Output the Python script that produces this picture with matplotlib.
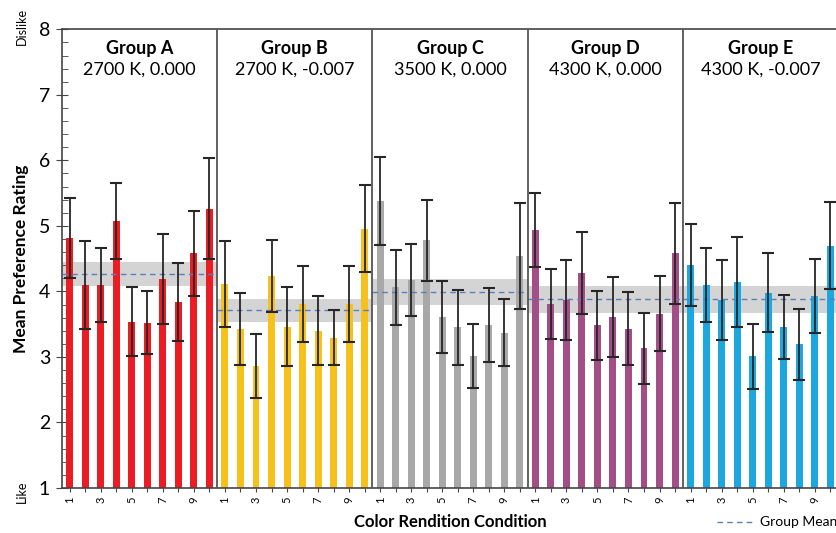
import numpy as np
import matplotlib
matplotlib.use("Agg")
import matplotlib.pyplot as plt
from matplotlib.lines import Line2D
from matplotlib.ticker import MultipleLocator

plt.rcParams["font.family"] = ["Lato", "DejaVu Sans"]

# ---------------------------------------------------------------------------
# data (mean rating, +/- error per condition)
# ---------------------------------------------------------------------------
groups = ["Group A", "Group B", "Group C", "Group D", "Group E"]
subtitles = ["2700 K, 0.000", "2700 K, -0.007", "3500 K, 0.000",
             "4300 K, 0.000", "4300 K, -0.007"]
colors = ["#EC1C24", "#F6C11A", "#A8A8A8", "#A34E86", "#1DA7DF"]
conditions = [1, 2, 3, 4, 5, 6, 7, 8, 9, 10]

means_a = [4.82, 4.10, 4.10, 5.08, 3.54, 3.52, 4.19, 3.84, 4.58, 5.26]
errs_a = [0.61, 0.67, 0.57, 0.58, 0.53, 0.48, 0.68, 0.60, 0.65, 0.77]
means_b = [4.11, 3.43, 2.86, 4.23, 3.46, 3.81, 3.40, 3.29, 3.81, 4.96]
errs_b = [0.66, 0.55, 0.49, 0.55, 0.60, 0.58, 0.53, 0.42, 0.58, 0.67]
means_c = [5.38, 4.06, 4.17, 4.78, 3.61, 3.45, 3.02, 3.49, 3.37, 4.54]
errs_c = [0.67, 0.57, 0.55, 0.62, 0.55, 0.57, 0.49, 0.56, 0.51, 0.81]
means_d = [4.94, 3.81, 3.87, 4.28, 3.48, 3.61, 3.43, 3.13, 3.66, 4.58]
errs_d = [0.56, 0.53, 0.61, 0.62, 0.53, 0.61, 0.56, 0.54, 0.57, 0.77]
means_e = [4.40, 4.10, 3.87, 4.14, 3.01, 3.98, 3.46, 3.19, 3.93, 4.70]
errs_e = [0.63, 0.57, 0.61, 0.69, 0.50, 0.60, 0.49, 0.54, 0.57, 0.67]

group_means = [4.27, 3.71, 3.99, 3.88, 3.88]
group_band = [0.18, 0.18, 0.20, 0.21, 0.21]

all_means = [means_a, means_b, means_c, means_d, means_e]
all_errs = [errs_a, errs_b, errs_c, errs_d, errs_e]

# ---------------------------------------------------------------------------
W, H = 837, 533
fig = plt.figure(figsize=(W / 100, H / 100), dpi=100)
ax = fig.add_axes([62 / W, 1 - 488 / H, 776 / W, (488 - 29.3) / H])

n = len(conditions)
for g, (m, e) in enumerate(zip(all_means, all_errs)):
    x = g * n + np.arange(n)
    lo, hi = g * n - 0.5, g * n + n - 0.5
    # grey band around the group mean
    ax.fill_between([lo, hi], group_means[g] - group_band[g],
                    group_means[g] + group_band[g], color="#D4D4D4",
                    zorder=1, linewidth=0)
    ax.bar(x, np.array(m) - 1, bottom=1, width=0.45, color=colors[g], zorder=2)
    ax.errorbar(x, m, yerr=e, fmt="none", ecolor="#262626", elinewidth=1.3,
                capsize=4, capthick=1.5, zorder=4)
    ax.plot([lo, hi], [group_means[g]] * 2, ls=(0, (4, 3)), lw=1,
            color="#5A7FB8", zorder=3)
    if g > 0:
        ax.axvline(lo, color="#555555", lw=1.3, zorder=5)
    ax.text(g * n + 4.5, 7.71, groups[g], ha="center", va="center",
            fontsize=13, fontweight="bold")
    ax.text(g * n + 4.5, 7.38, subtitles[g], ha="center", va="center",
            fontsize=13)

ax.set_xlim(-0.5, 5 * n - 0.5)
ax.set_ylim(1, 8)

ticks = np.arange(5 * n)
ax.set_xticks(ticks)
ax.set_xticklabels([str(conditions[i % n]) if i % 2 == 0 else ""
                    for i in ticks], rotation=90, fontsize=8)
ax.tick_params(axis="x", direction="out", length=3, pad=3, color="#444444")

ax.yaxis.set_major_locator(MultipleLocator(1))
ax.yaxis.set_minor_locator(MultipleLocator(0.2))
ax.tick_params(axis="y", which="major", direction="inout", length=9,
               labelsize=14, pad=4, color="#444444")
ax.tick_params(axis="y", which="minor", direction="in", length=4,
               color="#444444")

for s in ax.spines.values():
    s.set_color("#444444")
    s.set_linewidth(1.2)

ax.set_ylabel("Mean Preference Rating", fontsize=12.5, fontweight="bold",
              labelpad=7)
ax.set_xlabel("Color Rendition Condition", fontsize=12, fontweight="bold",
              labelpad=8)

fig.text(22 / W, 1 - 26 / H, "Dislike", rotation=90, ha="center", va="center",
         fontsize=9)
fig.text(22 / W, 1 - 492 / H, "Like", rotation=90, ha="center", va="center",
         fontsize=9)

handle = Line2D([], [], ls=(0, (4, 3)), lw=1, color="#5A7FB8")
fig.legend([handle], ["Group Mean"], loc="lower right", frameon=False,
           bbox_to_anchor=(1.015, -0.015), fontsize=10, handlelength=2.6,
           handletextpad=0.5)

fig.savefig("out.png", dpi=100)
